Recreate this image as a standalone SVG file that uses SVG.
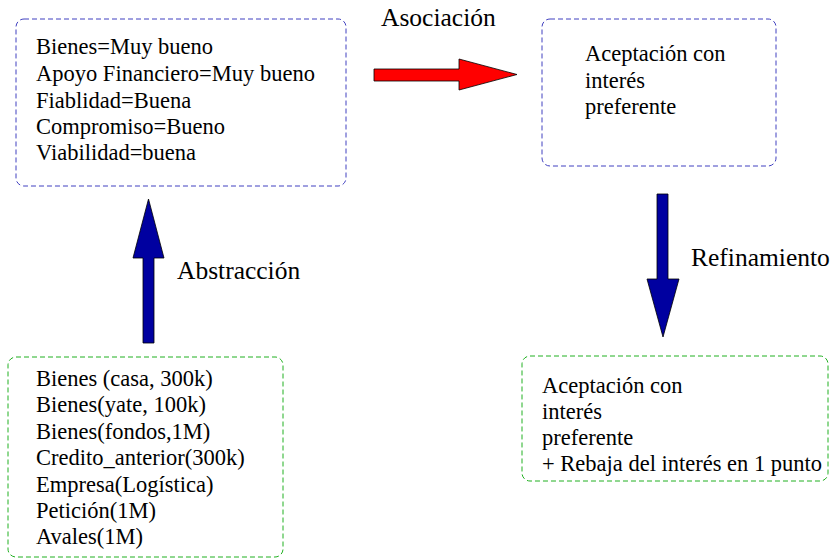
<svg xmlns="http://www.w3.org/2000/svg" width="830" height="560" viewBox="0 0 830 560">
<style>
  .t { font-size: 22.5px; }
  .lbl { font-size: 25.5px; }
  .bb { fill: #fff; stroke: #4040c0; stroke-width: 1; stroke-dasharray: 5 3; }
  .gb { fill: #fff; stroke: #20b020; stroke-width: 1; stroke-dasharray: 5 3; }
  .blue { fill: #0000a0; stroke: #000; stroke-width: 0.8; }
  .red { fill: #ff0000; stroke: #000; stroke-width: 0.8; }
</style>
<rect width="830" height="560" fill="#fff"/>
<g font-family="Liberation Serif, Tinos, DejaVu Serif, serif" fill="#000">
<g id="connectors">
  <polygon class="red" points="374,69 459,69 459,59 517,74.5 459,90 459,81 374,81"/>
  <polygon class="blue" points="143,343 143,258 133,258 148.5,199 164,258 154,258 154,343"/>
  <polygon class="blue" points="657,194 668,194 668,279 679,279 663,337 647,279 657,279"/>
  <text class="lbl" x="381" y="26">Asociación</text>
  <text class="lbl" x="177" y="279">Abstracción</text>
  <text class="lbl" x="691" y="266">Refinamiento</text>
</g>
<g id="abstract">
  <rect class="bb" x="16" y="19" width="330" height="167" rx="8"/>
  <text class="t" x="36" y="54">Bienes=Muy bueno</text>
  <text class="t" x="36" y="81">Apoyo Financiero=Muy bueno</text>
  <text class="t" x="36" y="107.5">Fiablidad=Buena</text>
  <text class="t" x="36" y="134">Compromiso=Bueno</text>
  <text class="t" x="36" y="160">Viabilidad=buena</text>
</g>
<g id="solution">
  <rect class="bb" x="542" y="19" width="234" height="147" rx="8"/>
  <text class="t" x="585" y="61">Aceptación con</text>
  <text class="t" x="585" y="88">interés</text>
  <text class="t" x="585" y="114">preferente</text>
</g>
<g id="data">
  <rect class="gb" x="8" y="357" width="275" height="200" rx="8"/>
  <text class="t" x="36" y="386">Bienes (casa, 300k)</text>
  <text class="t" x="36" y="412">Bienes(yate, 100k)</text>
  <text class="t" x="36" y="439">Bienes(fondos,1M)</text>
  <text class="t" x="36" y="465">Credito_anterior(300k)</text>
  <text class="t" x="36" y="492">Empresa(Logística)</text>
  <text class="t" x="36" y="517.5">Petición(1M)</text>
  <text class="t" x="36" y="543.5">Avales(1M)</text>
</g>
<g id="refined">
  <rect class="gb" x="522" y="356" width="306" height="125" rx="8"/>
  <text class="t" x="542" y="393">Aceptación con</text>
  <text class="t" x="542" y="419">interés</text>
  <text class="t" x="542" y="445">preferente</text>
  <text class="t" x="542" y="471">+ Rebaja del interés en 1 punto</text>
</g>
</g>
</svg>
